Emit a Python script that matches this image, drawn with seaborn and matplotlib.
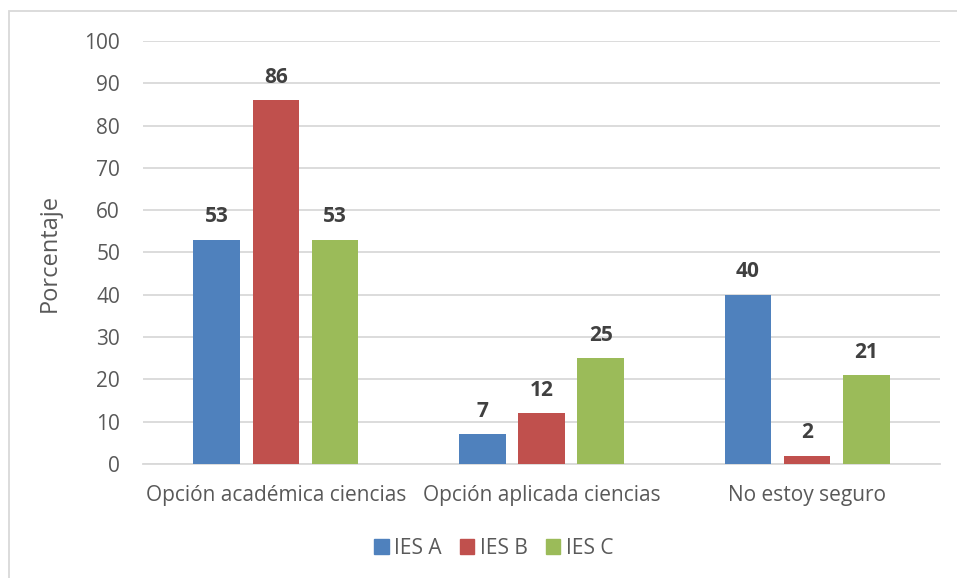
import matplotlib
matplotlib.use("Agg")
import matplotlib.pyplot as plt
import seaborn as sns
import pandas as pd
from matplotlib.patches import Rectangle

categories = ["Opción académica ciencias", "Opción aplicada ciencias", "No estoy seguro"]
series = ["IES A", "IES B", "IES C"]
ies_a = [53, 7, 40]
ies_b = [86, 12, 2]
ies_c = [53, 25, 21]
yticks = [0, 10, 20, 30, 40, 50, 60, 70, 80, 90, 100]
colors = ["#4F81BD", "#C0504D", "#9BBB59"]

rows = []
for name, vals in zip(series, [ies_a, ies_b, ies_c]):
    for cat, v in zip(categories, vals):
        rows.append({"Categoría": cat, "Centro": name, "Porcentaje": v})
df = pd.DataFrame(rows)

sns.set_theme(style="white")
plt.rcParams["font.family"] = ["Open Sans", "DejaVu Sans"]

fig = plt.figure(figsize=(9.57, 5.78), dpi=100)
ax = fig.add_axes([0.1494, 0.1972, 0.8328, 0.7319])

sns.barplot(data=df, x="Categoría", y="Porcentaje", hue="Centro",
            order=categories, hue_order=series, palette=colors,
            width=0.668, gap=0.215, saturation=1, errorbar=None,
            linewidth=0, legend=False, ax=ax, zorder=3)

ax.set_ylim(0, 100)
ax.set_xlim(-0.5, 2.5)
ax.set_yticks(yticks)
ax.set_yticklabels([str(t) for t in yticks])
ax.yaxis.grid(True, color="#D9D9D9", linewidth=1.3, zorder=0)
ax.set_axisbelow(True)
for s in ["top", "right", "left"]:
    ax.spines[s].set_visible(False)
ax.spines["bottom"].set_color("#D9D9D9")
ax.spines["bottom"].set_linewidth(1.3)
ax.tick_params(axis="both", length=0, labelsize=15, labelcolor="#595959")
ax.tick_params(axis="y", pad=16.5)
ax.tick_params(axis="x", pad=15)
ax.set_xlabel("")
ax.set_ylabel("Porcentaje", fontsize=17, color="#595959", labelpad=16)

for cont in ax.containers:
    ax.bar_label(cont, fmt="%d", padding=9, fontsize=15, fontweight="bold",
                 color="#404040")

# legend
handles = [Rectangle((0, 0), 1, 1, color=c) for c in colors]
fig.legend(handles, series, loc="center", bbox_to_anchor=(0.516, 0.051),
           ncol=3, frameon=False, fontsize=15, labelcolor="#595959",
           handlelength=0.7, handleheight=0.7, handletextpad=0.28,
           columnspacing=0.85)

# chart border
fig.patches.append(Rectangle((9 / 957, -0.05), 1.1, 1 - 11 / 578 + 0.05,
                             transform=fig.transFigure, fill=False,
                             edgecolor="#D9D9D9", linewidth=1.3))

fig.savefig("out.png", dpi=100)
